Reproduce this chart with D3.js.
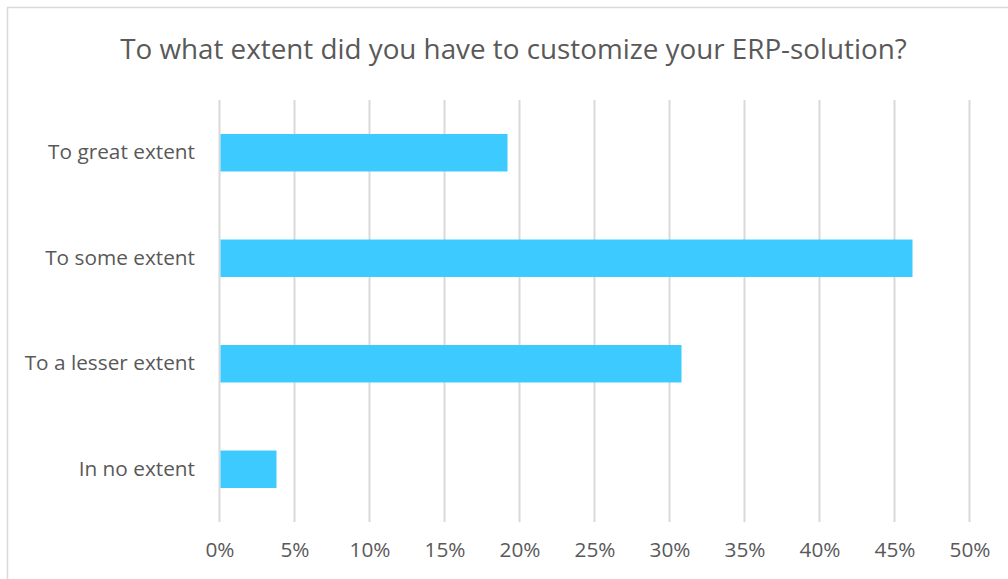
<!DOCTYPE html>
<html>
<head>
<meta charset="utf-8">
<script src="https://cdn.jsdelivr.net/npm/d3@7"></script>
<style>
  body { margin: 0; background: #fff; }
  svg { display: block; }
</style>
</head>
<body>
<div id="chart"></div>
<script>
// donnees
var categories = ["To great extent", "To some extent", "To a lesser extent", "In no extent"];
var values = [19.2, 46.2, 30.8, 3.8];
var ticks = [0, 5, 10, 15, 20, 25, 30, 35, 40, 45, 50];
var title = "To what extent did you have to customize your ERP-solution?";

var width = 1008, height = 579;
var font = "'Open Sans', 'DejaVu Sans', sans-serif";
var txtColor = "#595959";

var svg = d3.select("#chart").append("svg")
    .attr("width", width)
    .attr("height", height);

// cadre du graphique (coupe a droite et en bas)
svg.append("rect")
    .attr("x", 7.5)
    .attr("y", 7.5)
    .attr("width", width + 20)
    .attr("height", height + 20)
    .attr("fill", "white")
    .attr("stroke", "#d9d9d9")
    .attr("stroke-width", 1.5);

var x = d3.scaleLinear()
    .domain([0, 50])
    .range([219.5, 969.5]);

var y = d3.scaleBand()
    .domain(categories)
    .range([100, 522])
    .paddingInner(0.645)
    .paddingOuter(0.3225);

// ajuste une taille de police pour obtenir une largeur donnee
function fitSize(txt, targetW, base) {
    var t = svg.append("text")
        .attr("font-family", font)
        .attr("font-size", base)
        .text(txt);
    var w = t.node().getComputedTextLength();
    t.remove();
    return base * targetW / w;
}
var titleSize = fitSize(title, 787, 30);
var labelSize = fitSize("To great extent", 147, 20);

// grille verticale
svg.append("g").selectAll("line").data(ticks).enter().append("line")
    .attr("x1", d => x(d))
    .attr("x2", d => x(d))
    .attr("y1", 100)
    .attr("y2", 522)
    .attr("stroke", "#d9d9d9")
    .attr("stroke-width", 2);

// barres
svg.append("g").selectAll("rect").data(values).enter().append("rect")
    .attr("x", x(0) + 1)
    .attr("y", (d, i) => y(categories[i]))
    .attr("width", d => x(d) - x(0) - 1)
    .attr("height", y.bandwidth())
    .attr("fill", "#3dcaff");

// axe x
var xAxis = svg.append("g")
    .attr("transform", "translate(0,522)")
    .call(d3.axisBottom(x).tickValues(ticks).tickSize(0).tickPadding(20).tickFormat(d => d + "%"));
xAxis.select(".domain").remove();
xAxis.selectAll("text")
    .attr("font-family", font)
    .attr("font-size", labelSize)
    .attr("fill", txtColor);

// axe y
var yAxis = svg.append("g")
    .attr("transform", "translate(219,0)")
    .call(d3.axisLeft(y).tickSize(0).tickPadding(24));
yAxis.select(".domain").remove();
yAxis.selectAll("text")
    .attr("font-family", font)
    .attr("font-size", labelSize)
    .attr("fill", txtColor);

// titre
svg.append("text")
    .attr("x", 513.5)
    .attr("y", 59)
    .attr("text-anchor", "middle")
    .attr("font-family", font)
    .attr("font-size", titleSize)
    .attr("fill", txtColor)
    .text(title);
</script>
</body>
</html>
